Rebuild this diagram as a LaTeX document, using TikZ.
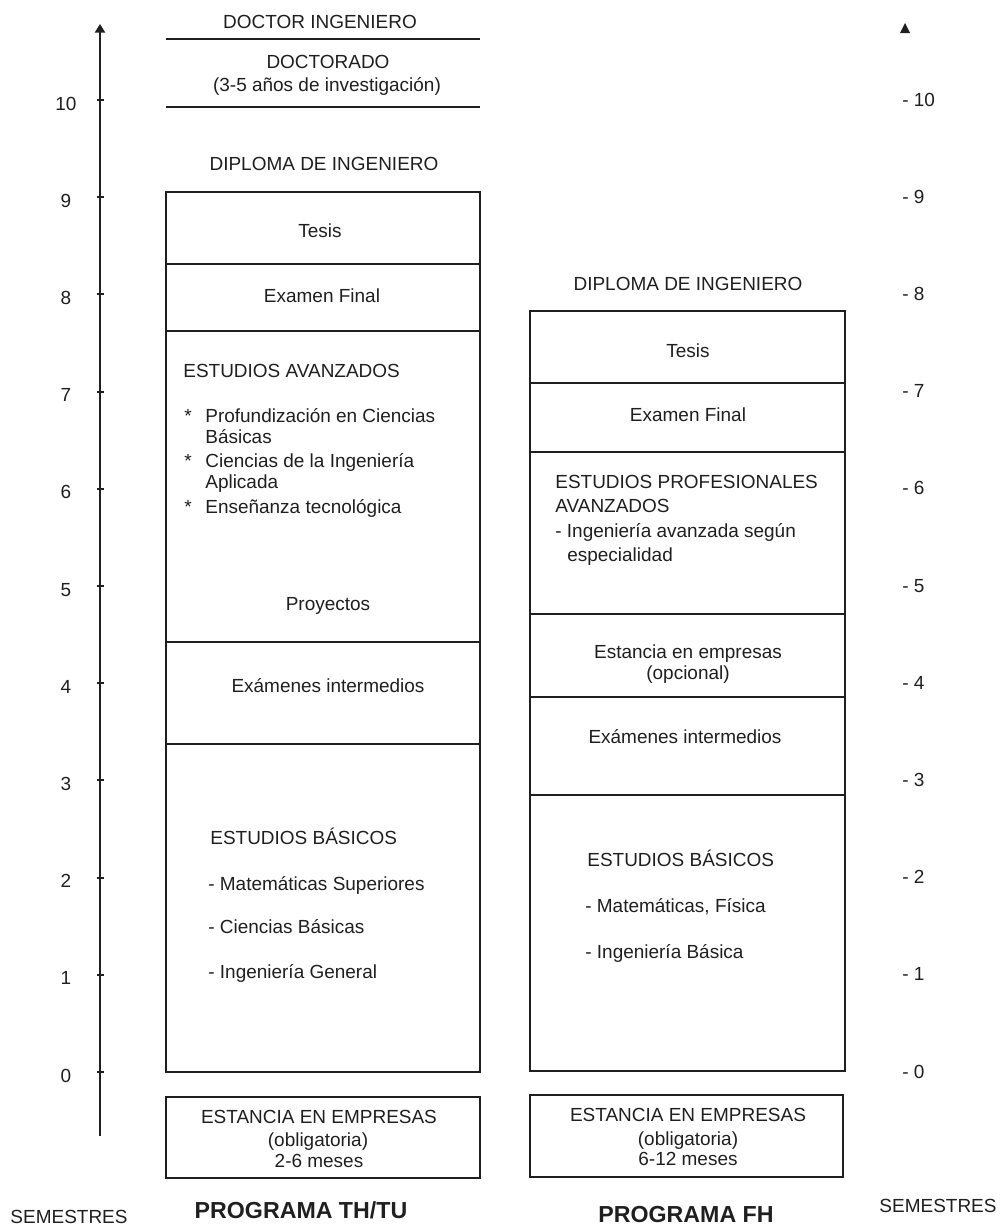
\documentclass[tikz,border=0pt]{standalone}
\usepackage{fontspec}
\setmainfont{Liberation Sans}
\usetikzlibrary{arrows.meta}

\tikzset{
  x=0.02cm, y=-0.02cm,
  ink/.style={black!88},
  lbl/.style={ink, font=\fontsize{10.8}{13}\selectfont, inner sep=0pt, anchor=base},
  lblw/.style={lbl, anchor=base west},
  title/.style={ink, font=\fontsize{13.2}{16}\selectfont\bfseries, inner sep=0pt, anchor=base},
  frame/.style={ink, line width=1.1pt},
  axis/.style={ink, line width=1.1pt},
}

\begin{document}
\begin{tikzpicture}
\useasboundingbox (0,0) rectangle (1001,1225);

% ---------- left semester axis ----------
\coordinate (axbot) at (100,1136);
\coordinate (axtop) at (100,24);
\draw[axis, -{Triangle[length=0.17cm,width=0.2cm]}] (axbot) -- (axtop);
\foreach \i in {0,...,10} {
  \draw[axis] (97,{1072-97.2*\i}) -- (104,{1072-97.2*\i});
  \node[lbl] (ls\i) at (66,{1082-97.2*\i}) {\i};
}
\node[lbl] (semL) at (69,1223) {SEMESTRES};

% ---------- right semester scale ----------
\fill[ink] (900,33) -- (910,33) -- (905,23) -- cycle;
\foreach \i in {0,...,10} {
  \node[lblw] (rs\i) at (902,{1078-97.2*\i}) {- \i};
}
\node[lbl] (semR) at (938,1212) {SEMESTRES};

% ---------- TH/TU programme ----------
\node[lbl] (docing) at (320,28) {DOCTOR INGENIERO};
\draw[frame] (166,39) -- (480,39);
\node[lbl] (doct1) at (328,68) {DOCTORADO};
\node[lbl] (doct2) at (327,91) {(3-5 años de investigación)};
\draw[frame] (166,107) -- (480,107);
\node[lbl] (dipL) at (324,170) {DIPLOMA DE INGENIERO};

\draw[frame] (166,192) rectangle (480,1072);
\draw[frame] (166,264) -- (480,264);
\draw[frame] (166,331) -- (480,331);
\draw[frame] (166,642) -- (480,642);
\draw[frame] (166,744) -- (480,744);

\node[lbl] (tesisL) at (320,237) {Tesis};
\node[lbl] (examL) at (322,302) {Examen Final};
\node[lblw] (avL) at (183,377) {ESTUDIOS AVANZADOS};
\node[lblw] (b1) at (184,422) {*};
\node[lblw] (b1a) at (205,422) {Profundización en Ciencias};
\node[lblw] (b1b) at (205,443) {Básicas};
\node[lblw] (b2) at (184,467) {*};
\node[lblw] (b2a) at (205,467) {Ciencias de la Ingeniería};
\node[lblw] (b2b) at (205,488) {Aplicada};
\node[lblw] (b3) at (184,513) {*};
\node[lblw] (b3a) at (205,513) {Enseñanza tecnológica};
\node[lbl] (proyL) at (328,610) {Proyectos};
\node[lbl] (intL) at (328,692) {Exámenes intermedios};
\node[lblw] (basL) at (210,844) {ESTUDIOS BÁSICOS};
\node[lblw] (basL1) at (208,890) {- Matemáticas Superiores};
\node[lblw] (basL2) at (208,933) {- Ciencias Básicas};
\node[lblw] (basL3) at (208,978) {- Ingeniería General};

\draw[frame] (166,1097) rectangle (480,1178);
\node[lbl] (empL1) at (319,1123) {ESTANCIA EN EMPRESAS};
\node[lbl] (empL2) at (318,1146) {(obligatoria)};
\node[lbl] (empL3) at (319,1167) {2-6 meses};
\node[title] (progL) at (301,1218) {PROGRAMA TH/TU};

% ---------- FH programme ----------
\node[lbl] (dipR) at (688,290) {DIPLOMA DE INGENIERO};

\draw[frame] (530,311) rectangle (845,1071);
\draw[frame] (530,383) -- (845,383);
\draw[frame] (530,452) -- (845,452);
\draw[frame] (530,614) -- (845,614);
\draw[frame] (530,697) -- (845,697);
\draw[frame] (530,795) -- (845,795);

\node[lbl] (tesisR) at (688,357) {Tesis};
\node[lbl] (examR) at (688,421) {Examen Final};
\node[lblw] (profR1) at (555,488) {ESTUDIOS PROFESIONALES};
\node[lblw] (profR2) at (555,512) {AVANZADOS};
\node[lblw] (profR3) at (555,537) {- Ingeniería avanzada según};
\node[lblw] (profR4) at (567,561) {especialidad};
\node[lbl] (estR1) at (688,658) {Estancia en empresas};
\node[lbl] (estR2) at (688,679) {(opcional)};
\node[lbl] (intR) at (685,743) {Exámenes intermedios};
\node[lblw] (basR) at (587,866) {ESTUDIOS BÁSICOS};
\node[lblw] (basR1) at (585,912) {- Matemáticas, Física};
\node[lblw] (basR2) at (585,958) {- Ingeniería Básica};

\draw[frame] (530,1095) rectangle (843,1177);
\node[lbl] (empR1) at (688,1121) {ESTANCIA EN EMPRESAS};
\node[lbl] (empR2) at (688,1145) {(obligatoria)};
\node[lbl] (empR3) at (688,1165) {6-12 meses};
\node[title] (progR) at (686,1222) {PROGRAMA FH};
\end{tikzpicture}
\end{document}
